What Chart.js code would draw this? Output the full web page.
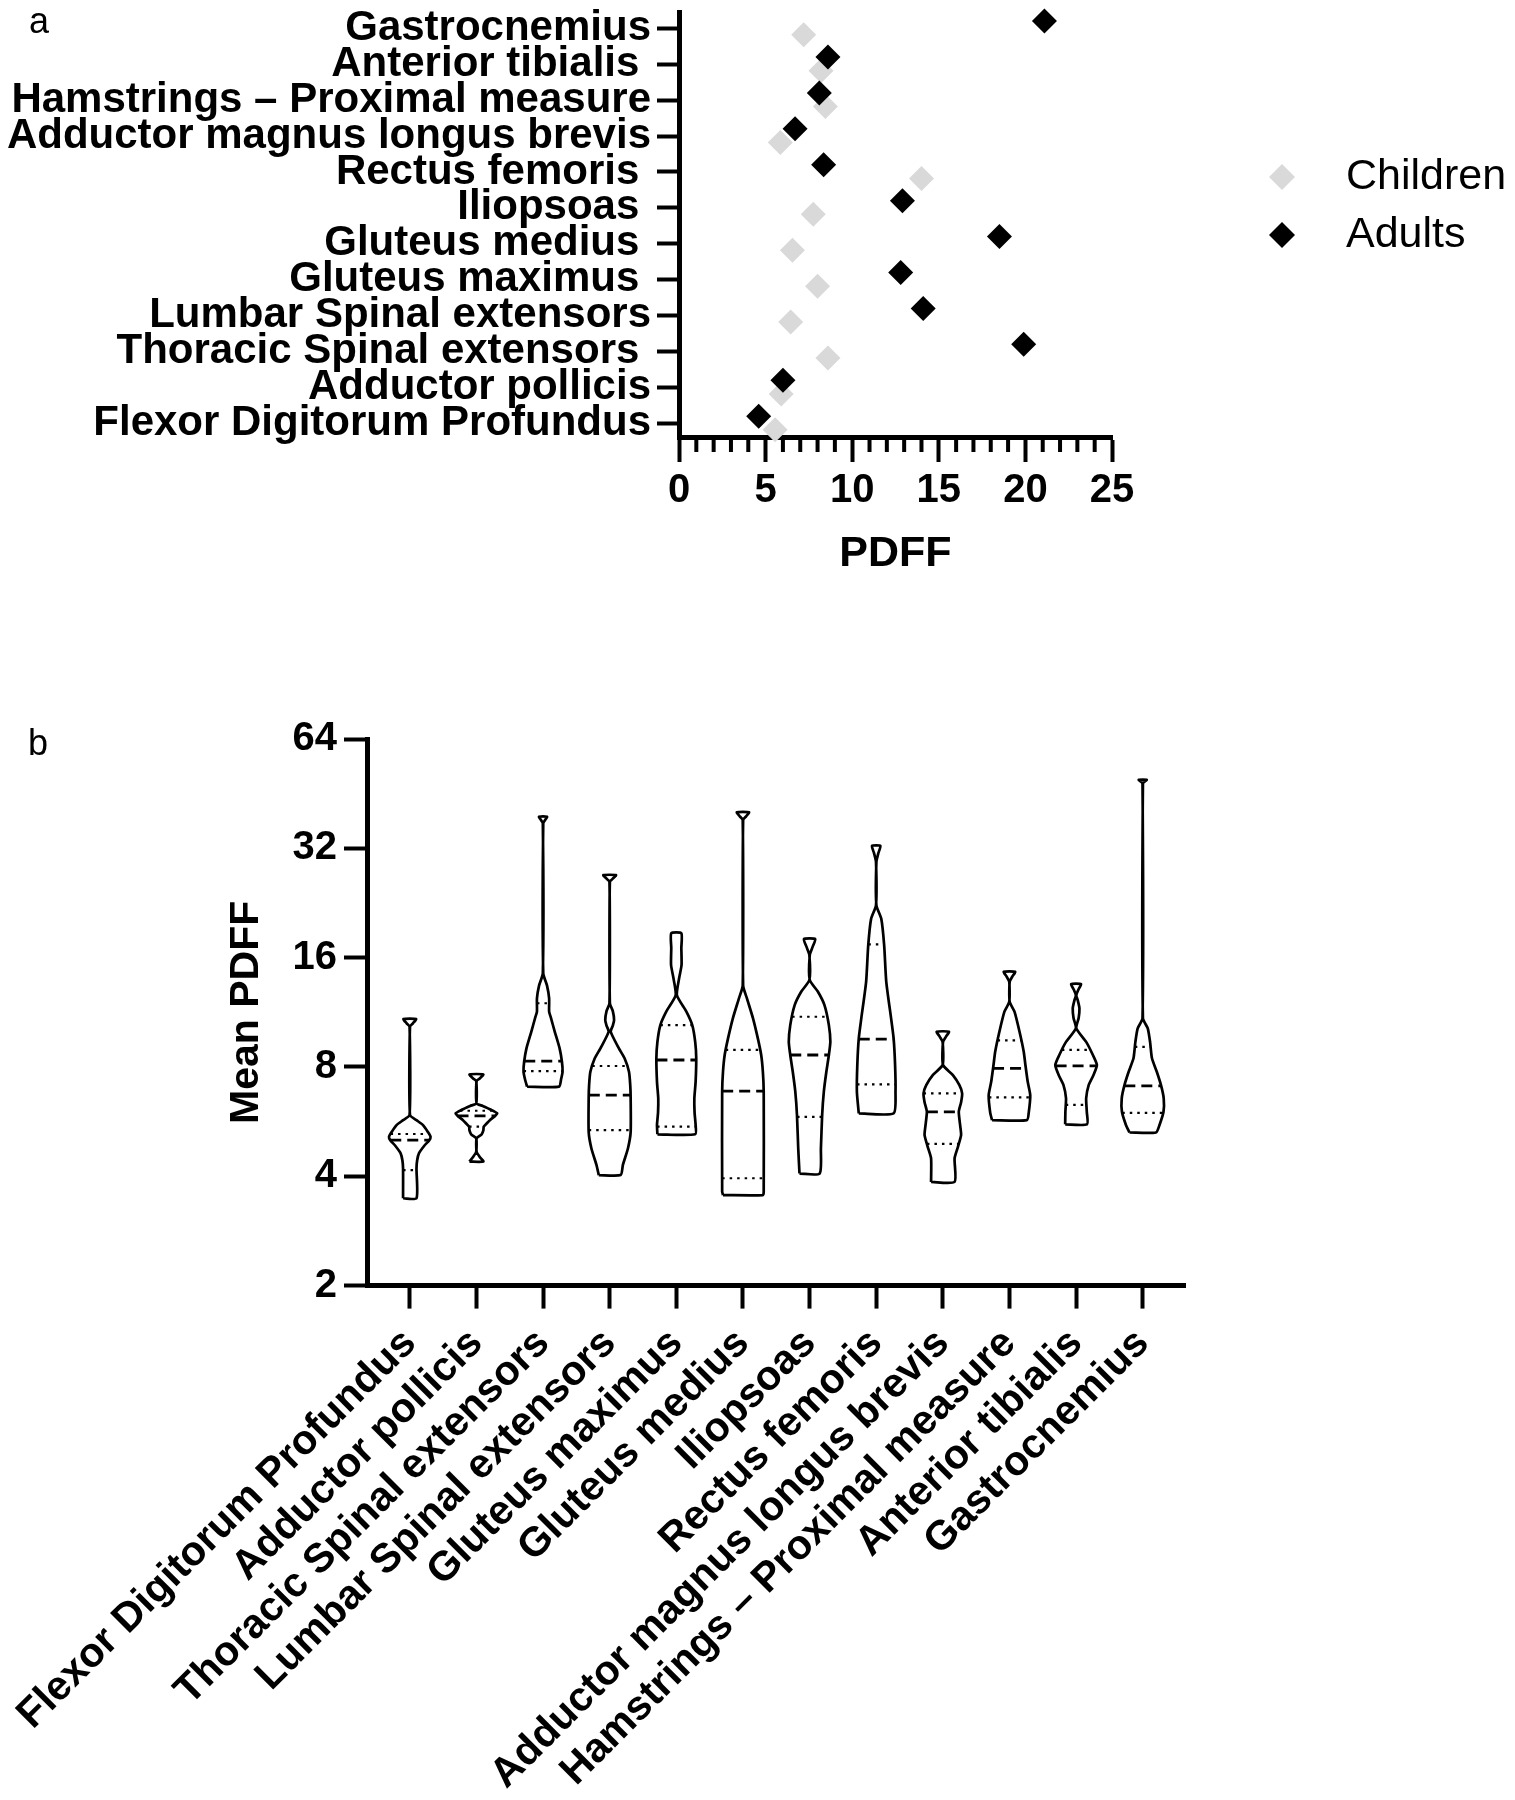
<!DOCTYPE html>
<html>
<head>
<meta charset="utf-8">
<script src="https://cdn.jsdelivr.net/npm/chart.js@4.4.0/dist/chart.umd.min.js"></script>
<style>
  html, body { margin: 0; padding: 0; background: #fff; }
  #page { position: relative; width: 1515px; height: 1800px; background: #fff; overflow: hidden; }
  .box { position: absolute; left: 0; }
  .tag { position: absolute; font-family: "Liberation Sans", Arial, sans-serif; font-size: 36px; color: #000; line-height: 1; }
</style>
</head>
<body>
<div id="page">
  <div class="box" style="top:0;width:1515px;height:620px"><canvas id="chartA" width="1515" height="620"></canvas></div>
  <div class="box" style="top:600px;width:1515px;height:1200px"><canvas id="chartB" width="1515" height="1200"></canvas></div>
  <div class="tag" style="left:29px;top:3px">a</div>
  <div class="tag" style="left:28px;top:725px">b</div>
</div>
<script>
const FONT = '"Liberation Sans", Arial, Helvetica, sans-serif';
Chart.defaults.font.family = FONT;
Chart.defaults.color = '#000';

// categories: left to right in panel b, bottom to top in panel a
const muscles = [
  'Flexor Digitorum Profundus', 'Adductor pollicis', 'Thoracic Spinal extensors',
  'Lumbar Spinal extensors', 'Gluteus maximus', 'Gluteus medius', 'Iliopsoas',
  'Rectus femoris', 'Adductor magnus longus brevis', 'Hamstrings – Proximal measure',
  'Anterior tibialis', 'Gastrocnemius'
];
// panel a prints a few names with a trailing blank
const musclesA = [
  'Flexor Digitorum Profundus', 'Adductor pollicis', 'Thoracic Spinal extensors ',
  'Lumbar Spinal extensors', 'Gluteus maximus ', 'Gluteus medius ', 'Iliopsoas ',
  'Rectus femoris ', 'Adductor magnus longus brevis', 'Hamstrings – Proximal measure',
  'Anterior tibialis ', 'Gastrocnemius'
];

// panel a: mean PDFF per group
const children = [5.55, 5.9, 8.6, 6.45, 8.0, 6.55, 7.75, 14.0, 5.85, 8.45, 8.2, 7.2];
const adults   = [4.6, 6.0, 19.9, 14.1, 12.8, 18.5, 12.9, 8.35, 6.7, 8.1, 8.6, 21.1];

// panel b: quartiles and violin outlines [PDFF, relative half width]
const q1     = [4.16, 5.48, 7.79, 5.36, 5.48, 3.95, 5.83, 7.16, 4.91, 6.60, 6.29, 5.98];
const median = [5.03, 5.87, 8.30, 6.69, 8.36, 6.86, 8.63, 9.55, 6.02, 7.93, 8.06, 7.10];
const q3     = [5.23, 6.06, 11.98, 8.05, 10.43, 8.91, 11.0, 17.4, 6.77, 9.47, 8.91, 9.09];
const yTicksB = [2, 4, 8, 16, 32, 64];

const violinShapes = [
  [[3.48,0.32],[4.2,0.32],[4.42,0.35],[4.63,0.44],[4.87,0.71],[5.03,0.93],[5.14,0.99],[5.3,0.86],[5.54,0.62],[5.71,0.32],[5.9,0.01],[10.33,0.01],[10.55,0.15],[10.84,0.3]],
  [[4.39,0.33],[4.53,0.15],[4.67,0.01],[5.09,0.01],[5.22,0.25],[5.35,0.33],[5.48,0.35],[5.6,0.5],[5.71,0.64],[5.87,0.9],[5.96,0.99],[6.1,0.7],[6.25,0.3],[6.35,0.01],[7.32,0.01],[7.45,0.17],[7.63,0.33]],
  [[7.06,0.76],[7.4,0.86],[7.76,0.93],[8.27,0.9],[9.0,0.79],[10.0,0.56],[11.0,0.36],[11.36,0.29],[12.36,0.29],[13.4,0.19],[14.48,0.01],[37.5,0.01],[38.3,0.1],[39.1,0.19]],
  [[4.03,0.52],[4.3,0.63],[4.77,0.87],[5.3,1.0],[6.56,1.0],[7.13,0.98],[7.76,0.92],[8.45,0.71],[9.0,0.44],[10.0,0.05],[10.4,0.15],[10.77,0.21],[11.4,0.15],[11.98,0.01],[25.9,0.01],[26.4,0.15],[27.0,0.3]],
  [[5.22,0.9],[5.54,0.92],[6.0,0.87],[6.56,0.86],[7.28,0.92],[8.45,0.95],[9.38,0.9],[10.43,0.76],[11.36,0.48],[12.6,0.03],[14.0,0.13],[15.27,0.25],[17.0,0.24],[18.67,0.24]],
  [[3.55,0.95],[3.63,0.99],[6.84,0.99],[7.76,0.95],[8.63,0.87],[9.59,0.71],[10.89,0.48],[12.36,0.19],[13.4,0.01],[38.3,0.01],[39.2,0.15],[40.2,0.29]],
  [[4.07,0.48],[4.77,0.54],[5.9,0.6],[6.84,0.68],[7.76,0.8],[8.63,0.92],[9.38,0.99],[10.43,0.92],[11.84,0.71],[12.89,0.4],[13.88,0.01],[16.27,0.01],[17.1,0.14],[18.0,0.27]],
  [[5.96,0.83],[6.84,0.92],[8.1,0.9],[9.59,0.83],[10.89,0.71],[13.73,0.48],[17.3,0.38],[20.5,0.24],[22.3,0.01],[29.4,0.01],[31.0,0.1],[32.5,0.2]],
  [[3.86,0.56],[4.48,0.56],[4.8,0.71],[5.19,0.87],[5.5,0.83],[6.02,0.76],[6.4,0.87],[6.77,0.92],[7.13,0.79],[7.6,0.48],[8.1,0.01],[9.38,0.01],[9.7,0.15],[10.0,0.29]],
  [[5.71,0.83],[6.0,0.92],[6.69,0.99],[7.28,0.87],[8.1,0.76],[8.81,0.68],[10.0,0.48],[11.36,0.24],[12.1,0.01],[13.73,0.01],[14.2,0.14],[14.63,0.27]],
  [[5.56,0.52],[6.02,0.51],[6.56,0.48],[7.13,0.6],[7.6,0.83],[8.1,0.99],[8.63,0.8],[9.38,0.48],[10.22,0.01],[10.9,0.12],[11.6,0.16],[12.2,0.08],[12.6,0.01],[13.1,0.12],[13.53,0.24]],
  [[5.28,0.63],[5.54,0.8],[6.02,0.99],[6.56,1.0],[7.13,0.87],[7.76,0.67],[8.45,0.44],[9.38,0.35],[10.22,0.24],[10.89,0.01],[48.3,0.01],[48.9,0.1],[49.4,0.19]]
];

const boldFont = (size) => ({ family: FONT, size: size, weight: 'bold' });

// ---------- panel a ----------
// short unlabeled ticks between the labeled ones
const minorTicks = {
  id: 'minorTicks',
  afterDraw(chart, args, opts) {
    const sc = chart.scales.x;
    const ctx = chart.ctx;
    ctx.save();
    ctx.strokeStyle = '#000';
    ctx.lineWidth = opts.width;
    for (let v = sc.min; v <= sc.max; v += opts.step) {
      if (v % opts.every === 0) continue;
      const px = sc.getPixelForValue(v);
      ctx.beginPath();
      ctx.moveTo(px, sc.top);
      ctx.lineTo(px, sc.top + opts.length);
      ctx.stroke();
    }
    ctx.restore();
  }
};

// legend drawn beside the plot, Children first
const sideLegend = {
  id: 'sideLegend',
  afterDraw(chart, args, opts) {
    const ctx = chart.ctx;
    const area = chart.chartArea;
    const items = chart.data.datasets.slice().reverse();
    ctx.save();
    items.forEach((ds, k) => {
      const cx = area.right + opts.offsetX;
      const cy = opts.top + k * opts.rowGap;
      const r = opts.radius;
      ctx.fillStyle = ds.backgroundColor;
      ctx.beginPath();
      ctx.moveTo(cx - r, cy);
      ctx.lineTo(cx, cy - r);
      ctx.lineTo(cx + r, cy);
      ctx.lineTo(cx, cy + r);
      ctx.closePath();
      ctx.fill();
      ctx.fillStyle = '#000';
      ctx.font = opts.fontSize + 'px ' + FONT;
      ctx.textBaseline = 'middle';
      ctx.fillText(ds.label, cx + opts.textGap, cy);
    });
    ctx.restore();
  }
};

new Chart(document.getElementById('chartA'), {
  type: 'scatter',
  data: {
    datasets: [
      {
        label: 'Adults',
        data: adults.map((v, i) => ({ x: v, y: i + 0.2 })),
        backgroundColor: '#000',
        pointStyle: 'rectRot', pointRadius: 12.5, borderWidth: 0, clip: false
      },
      {
        label: 'Children',
        data: children.map((v, i) => ({ x: v, y: i - 0.18 })),
        backgroundColor: '#d9d9d9',
        pointStyle: 'rectRot', pointRadius: 12.5, borderWidth: 0, clip: false
      }
    ]
  },
  options: {
    responsive: false,
    animation: false,
    devicePixelRatio: 1,
    events: [],
    layout: { padding: { left: 8, top: 8, right: 403, bottom: 0 } },
    plugins: {
      legend: { display: false },
      tooltip: { enabled: false },
      minorTicks: { step: 1, every: 5, length: 15, width: 4 },
      sideLegend: { offsetX: 170, top: 177, rowGap: 58, radius: 13, textGap: 64, fontSize: 43 }
    },
    scales: {
      x: {
        type: 'linear', min: 0, max: 25,
        ticks: { stepSize: 5, font: boldFont(40), color: '#000', padding: 5 },
        grid: { drawOnChartArea: false, tickLength: 25, tickWidth: 4, tickColor: '#000' },
        border: { width: 5, color: '#000' },
        title: { display: true, text: 'PDFF', font: boldFont(43), color: '#000', padding: { top: 0, bottom: 40 } },
        afterFit: (s) => { s.height = 183; }
      },
      y: {
        type: 'linear', min: -0.38, max: 11.44,
        afterBuildTicks: (s) => { s.ticks = musclesA.map((m, i) => ({ value: i })); },
        ticks: {
          autoSkip: false,
          callback: (v) => musclesA[v],
          font: { family: FONT, size: 42, weight: 'bold', lineHeight: 0.3 },
          color: '#000', padding: 6
        },
        grid: { drawOnChartArea: false, tickLength: 22, tickWidth: 4, tickColor: '#000' },
        border: { width: 5, color: '#000' },
        afterFit: (s) => { s.width = 671; }
      }
    }
  },
  plugins: [minorTicks, sideLegend]
});

// ---------- panel b ----------
const halfMax = 0.315; // category units for relative width 1

// outline half width at a given PDFF (log axis)
function widthAt(shape, v) {
  for (let k = 1; k < shape.length; k++) {
    const [v0, w0] = shape[k - 1];
    const [v1, w1] = shape[k];
    if (v >= v0 && v <= v1) {
      const t = (Math.log(v) - Math.log(v0)) / (Math.log(v1) - Math.log(v0));
      return w0 + t * (w1 - w0);
    }
  }
  return 0;
}

const datasetsB = [];
violinShapes.forEach((shape, i) => {
  const left = shape.map(([v, w]) => ({ x: i - w * halfMax, y: v }));
  const right = shape.slice().reverse().map(([v, w]) => ({ x: i + w * halfMax, y: v }));
  datasetsB.push({
    data: left.concat(right, [left[0]]),
    showLine: true, tension: 0.2, borderColor: '#000', borderWidth: 2.7,
    pointRadius: 0, fill: false, clip: false
  });
  const addLine = (v, dash, width) => {
    const w = widthAt(shape, v) * halfMax;
    datasetsB.push({
      data: [{ x: i - w, y: v }, { x: i + w, y: v }],
      showLine: true, borderColor: '#000', borderWidth: width, borderDash: dash,
      pointRadius: 0, fill: false, clip: false
    });
  };
  addLine(median[i], [11, 6], 2.8);
  addLine(q1[i], [2.5, 5], 2.2);
  addLine(q3[i], [2.5, 5], 2.2);
});

new Chart(document.getElementById('chartB'), {
  type: 'scatter',
  data: { datasets: datasetsB },
  options: {
    responsive: false,
    animation: false,
    devicePixelRatio: 1,
    events: [],
    layout: { padding: { left: 218, top: 139, right: 329.5, bottom: 0 } },
    plugins: { legend: { display: false }, tooltip: { enabled: false } },
    scales: {
      x: {
        type: 'linear', min: -0.642, max: 11.642,
        afterBuildTicks: (s) => { s.ticks = muscles.map((m, i) => ({ value: i })); },
        ticks: {
          autoSkip: false, minRotation: 45, maxRotation: 45,
          callback: (v) => muscles[v],
          font: boldFont(41), color: '#000', padding: 11
        },
        grid: { drawOnChartArea: false, tickLength: 23, tickWidth: 4, tickColor: '#000' },
        border: { width: 5, color: '#000' },
        afterFit: (s) => { s.height = 514.4; s.paddingLeft = 0; s.paddingRight = 0; }
      },
      y: {
        type: 'logarithmic', min: 2, max: 64,
        afterBuildTicks: (s) => { s.ticks = yTicksB.map((v) => ({ value: v })); },
        ticks: { callback: (v) => String(v), font: boldFont(40), color: '#000', padding: 7 },
        grid: { drawOnChartArea: false, tickLength: 23, tickWidth: 4, tickColor: '#000' },
        border: { width: 5, color: '#000' },
        title: { display: true, text: 'Mean PDFF', font: boldFont(41), color: '#000', padding: { top: 4, bottom: 0 } },
        afterFit: (s) => { s.width = 149; }
      }
    }
  }
});
</script>
</body>
</html>
